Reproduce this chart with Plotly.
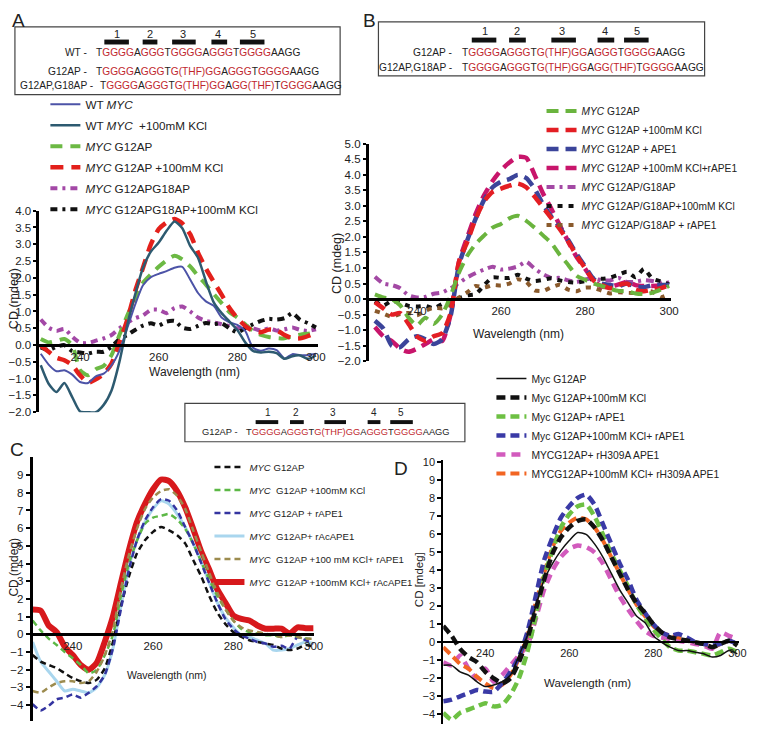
import plotly.graph_objects as go

# Figure is drawn 8px in from the page edge (default body margin), so it is sized to fit the window exactly.
OFF, FW, FH = 8, 741, 722
def px(x): return (x - OFF) / FW
def py(y): return 1 - (y - OFF) / FH

wavelength = list(range(230, 301, 2))

# ---------------- Panel A ----------------
a_wt = [-0.26, -0.58, -0.78, -0.75, -0.88, -1.1, -1.13, -0.93, -0.85, -0.6, -0.17, 0.5, 1.2, 1.78, 2.02, 2.12, 2.2, 2.3,
        2.33, 1.95, 1.55, 1.3, 1.17, 0.82, 0.68, 0.6, 0.42, -0.08, -0.17, -0.1, -0.15, -0.4, -0.27, -0.3, -0.3, -0.26]
a_wt_kcl = [-0.6, -1.15, -1.4, -1.13, -1.55, -1.98, -2.0, -2.0, -1.78, -1.35, -0.5, 0.6, 1.5, 2.3, 2.78, 3.05, 3.4, 3.68,
            3.48, 2.95, 2.6, 1.9, 1.27, 0.95, 0.7, 0.45, 0.08, -0.17, -0.22, -0.2, -0.24, -0.41, -0.33, -0.31, -0.41, -0.31]
a_g12 = [0.18, 0.08, 0.13, 0.18, 0.0, -0.75, -0.9, -0.72, -0.62, -0.3, 0.3, 0.88, 1.38, 1.85, 2.1, 2.33, 2.52, 2.66,
         2.55, 2.34, 2.06, 1.8, 1.52, 1.25, 0.98, 0.82, 0.62, 0.42, 0.3, 0.24, 0.21, 0.2, 0.27, 0.31, 0.34, 0.37]
a_g12_kcl = [-0.02, -0.2, -0.38, -0.45, -0.6, -0.9, -1.12, -1.02, -0.86, -0.55, 0.08, 0.75, 1.6, 2.3, 3.0, 3.45, 3.65, 3.75,
             3.62, 3.3, 2.75, 2.28, 1.88, 1.5, 1.1, 0.8, 0.57, 0.42, 0.38, 0.46, 0.44, 0.3, 0.2, 0.2, 0.27, 0.37]
a_g12g18 = [0.76, 0.52, 0.42, 0.48, 0.25, 0.07, 0.06, 0.13, 0.2, 0.3, 0.5, 0.66, 0.8, 0.88, 1.05, 1.05, 0.95, 1.1,
            1.15, 1.0, 0.82, 0.72, 0.67, 0.62, 0.56, 0.5, 0.57, 0.5, 0.43, 0.5, 0.43, 0.47, 0.52, 0.45, 0.42, 0.47]
a_g12g18_kcl = [-0.07, -0.15, -0.05, 0.0, -0.18, -0.22, -0.25, -0.2, -0.2, -0.05, 0.18, 0.3, 0.45, 0.58, 0.65, 0.58, 0.7, 0.72,
                0.52, 0.48, 0.57, 0.66, 0.62, 0.65, 0.5, 0.38, 0.5, 0.62, 0.72, 0.78, 0.76, 0.8, 0.95, 0.75, 0.65, 0.52]

# ---------------- Panel B ----------------
b_g12 = [0.15, 0.05, 0.0, -0.2, -0.6, -0.85, -0.6, -0.8, -0.5, 0.1, 0.85, 1.4, 1.78, 2.05, 2.3, 2.42, 2.6, 2.68,
         2.52, 2.3, 2.05, 1.8, 1.42, 1.1, 0.75, 0.62, 0.5, 0.42, 0.33, 0.26, 0.25, 0.18, 0.16, 0.2, 0.3, 0.42]
b_g12_kcl = [-0.1, -0.3, -0.5, -0.45, -0.8, -1.2, -1.35, -1.2, -1.1, -0.45, 1.2, 1.85, 2.6, 3.15, 3.45, 3.56, 3.65, 3.72,
             3.6, 3.3, 2.95, 2.6, 2.25, 1.85, 1.4, 1.0, 0.6, 0.45, 0.35, 0.45, 0.5, 0.3, 0.25, 0.3, 0.35, 0.45]
b_g12_ape1 = [-0.7, -0.95, -1.5, -1.55, -1.3, -1.2, -1.3, -1.45, -1.3, -0.55, 1.1, 1.9, 2.6, 3.2, 3.6, 3.78, 3.86, 4.0,
              3.9, 3.55, 3.05, 2.65, 2.3, 1.9, 1.45, 1.05, 0.65, 0.5, 0.45, 0.42, 0.5, 0.4, 0.38, 0.45, 0.45, 0.45]
b_g12_kcl_ape1 = [-0.9, -1.2, -1.35, -1.6, -1.7, -1.6, -1.45, -1.3, -1.35, -0.5, 1.2, 2.0, 2.75, 3.35, 3.8, 4.15, 4.4, 4.58,
                  4.55, 4.0, 3.4, 2.9, 2.37, 1.85, 1.35, 0.98, 0.58, 0.4, 0.4, 0.47, 0.56, 0.45, 0.42, 0.42, 0.45, 0.55]
b_g12g18 = [0.72, 0.5, 0.45, 0.35, 0.12, 0.05, 0.07, 0.17, 0.21, 0.35, 0.52, 0.7, 0.84, 0.95, 1.04, 0.95, 0.98, 1.05,
            1.2, 0.98, 0.8, 0.68, 0.68, 0.6, 0.55, 0.63, 0.66, 0.6, 0.6, 0.68, 0.55, 0.56, 0.61, 0.58, 0.53, 0.53]
b_g12g18_kcl = [-0.07, -0.21, -0.06, -0.12, -0.22, -0.24, -0.22, -0.3, -0.16, -0.06, 0.03, 0.12, 0.16, 0.45, 0.7, 0.68, 0.68, 0.78,
                0.66, 0.58, 0.62, 0.67, 0.6, 0.55, 0.53, 0.58, 0.66, 0.65, 0.69, 0.79, 0.88, 0.7, 0.97, 0.66, 0.57, 0.47]
b_g12g18_ape1 = [-0.38, -0.47, -0.57, -0.48, -0.45, -0.52, -0.38, -0.28, -0.3, -0.18, 0.05, 0.22, 0.42, 0.37, 0.45, 0.44, 0.5, 0.64,
                 0.55, 0.28, 0.26, 0.38, 0.46, 0.3, 0.25, 0.37, 0.36, 0.27, 0.18, 0.22, 0.2, 0.2, 0.26, 0.24, 0.06, 0.16]

# ---------------- Panel C ----------------
c_g12 = [-1.17, -1.54, -1.73, -1.91, -2.2, -2.47, -2.65, -2.75, -2.56, -1.91, -0.43, 1.6, 3.28, 4.58, 5.32, 5.79, 6.07, 5.88,
         5.6, 5.14, 4.2, 3.28, 2.17, 1.24, 0.59, 0.13, -0.15, -0.33, -0.43, -0.52, -0.6, -0.8, -0.89, -0.8, -0.6, -0.7]
c_g12_kcl = [0.78, 0.22, -0.24, -0.6, -1.0, -1.35, -1.73, -2.2, -2.0, -1.17, -0.05, 2.17, 4.0, 5.3, 6.25, 6.6, 6.7, 6.8,
             6.5, 5.97, 5.14, 4.1, 3.1, 2.17, 1.43, 0.78, 0.31, 0.13, 0.05, -0.05, -0.05, -0.15, -0.05, -0.15, -0.24, -0.24]
c_g12_rape1 = [-3.95, -4.3, -4.04, -3.67, -3.58, -3.4, -3.58, -3.3, -2.93, -2.28, -0.8, 1.43, 3.65, 5.32, 6.44, 7.18, 7.64, 7.55,
               7.0, 6.07, 5.14, 4.03, 2.9, 1.8, 0.87, 0.31, -0.05, -0.24, -0.43, -0.52, -0.7, -0.65, -0.8, -0.15, -0.33, -0.52]
c_g12_racape1 = [-0.43, -1.54, -2.1, -2.65, -3.2, -3.1, -3.2, -3.3, -3.0, -2.28, -0.8, 1.6, 3.84, 5.32, 6.35, 7.09, 7.55, 7.37,
                 6.8, 6.07, 5.14, 4.12, 2.9, 1.8, 0.96, 0.4, -0.05, -0.15, -0.33, -0.52, -0.89, -0.89, -0.8, -0.6, -0.43, -0.52]
c_g12_kcl_rape1 = [-3.2, -3.3, -3.0, -2.75, -2.65, -2.65, -2.75, -2.65, -2.1, -1.17, 0.22, 2.54, 4.5, 5.97, 7.09, 7.74, 8.1, 8.2,
                   7.83, 7.09, 5.88, 4.67, 3.47, 2.36, 1.43, 0.78, 0.4, 0.22, 0.13, 0.04, -0.05, -0.15, -0.05, -0.15, -0.24, -0.24]
c_g12_kcl_racape1 = [1.4, 1.34, 0.5, 0.13, -0.7, -1.17, -1.73, -2.0, -1.6, -0.4, 1.0, 2.9, 4.77, 6.35, 7.37, 8.2, 8.75, 8.66,
                     8.1, 7.18, 5.97, 4.67, 3.65, 2.54, 1.8, 1.06, 0.87, 0.78, 0.5, 0.32, 0.32, 0.32, 0.04, 0.4, 0.35, 0.35]

# ---------------- Panel D ----------------
d_g12 = [-1.28, -1.28, -1.64, -1.82, -2.19, -2.46, -2.37, -2.19, -1.82, -0.73, 0.36, 2.0, 3.47, 4.38, 5.1, 5.66, 6.1, 6.0,
         5.47, 4.74, 3.83, 2.92, 2.19, 1.46, 1.1, 0.36, 0.0, -0.27, -0.46, -0.46, -0.55, -0.64, -0.82, -0.73, -0.46, -0.64]
d_g12_kcl = [0.91, 0.36, -0.36, -0.82, -1.1, -1.64, -2.0, -2.28, -2.0, -1.1, 0.18, 1.82, 3.47, 4.93, 5.84, 6.39, 6.75, 6.84,
             6.39, 5.66, 4.74, 3.83, 2.92, 2.19, 1.64, 1.0, 0.55, 0.27, 0.18, 0.1, 0.0, -0.09, -0.27, -0.09, 0.09, -0.18]
d_g12_rape1 = [-3.92, -4.3, -3.92, -3.74, -3.56, -3.38, -3.56, -3.47, -2.92, -2.0, -0.55, 1.46, 3.65, 5.1, 6.39, 7.12, 7.57, 7.66,
               7.0, 6.0, 4.93, 4.0, 3.1, 2.1, 1.37, 0.73, 0.18, -0.27, -0.46, -0.46, -0.55, -0.64, -0.73, -0.55, -0.36, -0.55]
d_g12_kcl_rape1 = [-3.28, -3.19, -3.0, -2.83, -2.65, -2.74, -2.74, -2.28, -1.64, -0.82, 0.55, 2.55, 4.56, 5.84, 6.93, 7.57, 8.03, 8.21,
                   7.66, 6.57, 5.47, 4.38, 3.47, 2.37, 1.64, 1.0, 0.55, 0.36, 0.46, 0.27, 0.0, -0.09, -0.18, -0.09, 0.09, -0.09]
d_g12_h309a = [-1.1, -1.28, -0.73, -1.46, -2.0, -1.46, -2.19, -1.82, -1.28, -0.73, -0.18, 1.28, 2.92, 4.0, 4.74, 5.2, 5.38, 5.29,
               5.0, 4.38, 3.47, 2.55, 1.82, 1.19, 0.64, 0.36, 0.27, 0.18, 0.09, 0.0, -0.09, -0.18, -0.36, 0.55, 0.36, 0.18]
d_g12_kcl_h309a = [-0.27, -0.73, -1.19, -1.46, -1.92, -2.28, -2.55, -2.37, -1.82, -0.91, 0.36, 2.19, 3.83, 5.29, 6.2, 6.66, 6.93, 6.84,
                   6.39, 5.66, 4.74, 3.83, 2.92, 2.1, 1.46, 0.91, 0.55, 0.36, 0.27, 0.18, 0.0, -0.09, -0.27, -0.09, 0.09, -0.09]

FONT = "Liberation Sans, Arial, sans-serif"
SEQ_RED = "#c0272d"

fig = go.Figure()

def add(xa, ya, leg, y, name, color, width, dash, rank):
    fig.add_trace(go.Scatter(
        x=wavelength, y=y, name=name, mode="lines", xaxis=xa, yaxis=ya, legend=leg,
        legendgroup=leg + name, legendrank=rank,
        line=dict(color=color, width=width, dash=dash, shape="spline", smoothing=0.6)))

# Panel A
add("x", "y", "legend", a_g12g18, "<i>MYC</i> G12APG18AP", "#a348a6", 4, "7px,5px,3px,5px", 5)
add("x", "y", "legend", a_g12g18_kcl, "<i>MYC</i> G12APG18AP+100mM KCl", "#111111", 4, "7px,5px,3px,5px", 6)
add("x", "y", "legend", a_g12, "<i>MYC</i> G12AP", "#6cb944", 4, "12px,8px", 3)
add("x", "y", "legend", a_g12_kcl, "<i>MYC</i> G12AP +100mM KCl", "#e3201b", 4.5, "13px,8px", 4)
add("x", "y", "legend", a_wt, "WT <i>MYC</i>", "#4c53a7", 2, "solid", 1)
add("x", "y", "legend", a_wt_kcl, "WT <i>MYC</i>  +100mM KCl", "#2d5a70", 2.5, "solid", 2)

# Panel B
add("x2", "y2", "legend2", b_g12g18, "<i>MYC</i> G12AP/G18AP", "#a349a4", 4, "8px,5px,3px,5px", 5)
add("x2", "y2", "legend2", b_g12g18_kcl, "<i>MYC</i> G12AP/G18AP+100mM KCl", "#111111", 4, "5px,6px", 6)
add("x2", "y2", "legend2", b_g12g18_ape1, "<i>MYC</i> G12AP/G18AP + rAPE1", "#8a5a2c", 4, "5px,6px", 7)
add("x2", "y2", "legend2", b_g12_kcl_ape1, "<i>MYC</i> G12AP +100mM KCl+rAPE1", "#c8156b", 4.5, "12px,7px", 4)
add("x2", "y2", "legend2", b_g12_ape1, "<i>MYC</i> G12AP + APE1", "#3b449a", 4.5, "12px,7px", 3)
add("x2", "y2", "legend2", b_g12_kcl, "<i>MYC</i> G12AP +100mM KCl", "#e31e24", 4.5, "12px,7px", 2)
add("x2", "y2", "legend2", b_g12, "<i>MYC</i> G12AP", "#6ab43e", 4, "12px,7px", 1)

# Panel C
add("x3", "y3", "legend3", c_g12_kcl_racape1, "<i>MYC</i>  G12AP +100mM KCl+ rAcAPE1", "#d7191c", 6, "solid", 6)
add("x3", "y3", "legend3", c_g12_racape1, "<i>MYC</i>  G12AP+ rAcAPE1", "#a9d6ee", 3, "solid", 4)
add("x3", "y3", "legend3", c_g12, "<i>MYC</i> G12AP", "#111111", 2.5, "6px,4px", 1)
add("x3", "y3", "legend3", c_g12_kcl, "<i>MYC</i>  G12AP +100mM KCl", "#5cb846", 2.5, "6px,4px", 2)
add("x3", "y3", "legend3", c_g12_rape1, "<i>MYC</i> G12AP + rAPE1", "#3434a0", 2.5, "6px,4px", 3)
add("x3", "y3", "legend3", c_g12_kcl_rape1, "<i>MYC</i>  G12AP +100 mM KCl+ rAPE1", "#9c8b4e", 2.5, "6px,4px", 5)

# Panel D
add("x4", "y4", "legend4", d_g12_h309a, "MYCG12AP+ rH309A APE1", "#d25bbd", 4.5, "9px,6px", 5)
add("x4", "y4", "legend4", d_g12_kcl_h309a, "MYCG12AP+100mM KCl+ rH309A APE1", "#f26522", 4, "9px,5px", 6)
add("x4", "y4", "legend4", d_g12_rape1, "Myc G12AP+ rAPE1", "#6dc043", 4.5, "9px,5px", 3)
add("x4", "y4", "legend4", d_g12_kcl_rape1, "Myc G12AP+100mM KCl+ rAPE1", "#3a3aa6", 4.5, "9px,5px", 4)
add("x4", "y4", "legend4", d_g12, "Myc G12AP", "#111111", 1.5, "solid", 1)
add("x4", "y4", "legend4", d_g12_kcl, "Myc G12AP+100mM KCl", "#111111", 4.5, "9px,5px", 2)

def zero_pos(dom_top, dom_bot, lo, hi):
    ypix = dom_bot - (0 - lo) / (hi - lo) * (dom_bot - dom_top)
    return py(ypix)

def axes(sfx, xdom, xr, ydom, yr, ytick, yfmt, tickfont, lw, ticklen):
    xa = dict(domain=[px(xdom[0]), px(xdom[1])], range=xr, anchor="free",
              position=zero_pos(ydom[0], ydom[1], yr[0], yr[1]),
              showline=True, linecolor="black", linewidth=lw, ticks="", showgrid=False, zeroline=False,
              tickvals=[240, 260, 280, 300], tickfont=dict(family=FONT, size=tickfont, color="#222"))
    ya = dict(domain=[py(ydom[1]), py(ydom[0])], range=yr, anchor="x" + sfx if sfx else "x",
              showline=True, linecolor="black", linewidth=lw, ticks="outside", ticklen=ticklen, tickwidth=2,
              tickcolor="black", showgrid=False, zeroline=False, tickvals=ytick, tickformat=yfmt,
              tickfont=dict(family=FONT, size=tickfont, color="#222"))
    return xa, ya

tA = [v / 2 for v in range(-4, 9)]
tB = [v / 2 for v in range(-4, 11)]
tC = list(range(-4, 10))
tD = list(range(-4, 11))
xA, yA = axes("", (36.7, 320), [229.6, 300.4], (208, 413), [-2.0, 4.0], tA, ".1f", 11.5, 2.5, 3)
xB, yB = axes("2", (372, 680), [228.5, 300.5], (140, 361), [-2.0, 5.0], tB, ".1f", 11.5, 2.5, 3)
xC, yC = axes("3", (30, 316), [230, 300], (458, 727), [-4.9, 10.05], tC, "d", 11.5, 3, 4)
xD, yD = axes("4", (448, 749), [230, 300.4], (462, 730), [-4.54, 10.11], tD, "d", 11, 2, 4)

def legend_at(x, y, size, gap):
    return dict(x=px(x), y=py(y), xanchor="left", yanchor="top", bgcolor="rgba(0,0,0,0)",
                font=dict(family=FONT, size=size, color="#222"), tracegroupgap=gap,
                traceorder="grouped", itemwidth=30, itemclick=False)

fig.update_layout(
    width=FW, height=FH, autosize=False, margin=dict(l=0, r=0, t=0, b=0),
    paper_bgcolor="white", plot_bgcolor="rgba(0,0,0,0)", showlegend=True,
    font=dict(family=FONT, color="#222"),
    xaxis=xA, yaxis=yA, xaxis2=xB, yaxis2=yB, xaxis3=xC, yaxis3=yC, xaxis4=xD, yaxis4=yD,
    legend=legend_at(43, 85, 11.7, 2),
    legend2=legend_at(548, 92, 10.2, 0),
    legend3=legend_at(210, 454, 9.6, 4),
    legend4=legend_at(497, 364, 10.3, 0),
)

# ---------- sequence boxes ----------
def seq_html(parts):
    out = ""
    for txt, red in parts:
        out += f'<span style="color:{SEQ_RED}">{txt}</span>' if red else txt
    return out

WT_SEQ = [("T", 0), ("GGGG", 1), ("A", 0), ("GGG", 1), ("T", 0), ("GGGG", 1), ("A", 0), ("GGG", 1), ("T", 0), ("GGGG", 1), ("AAGG", 0)]
G12_SEQ = [("T", 0), ("GGGG", 1), ("A", 0), ("GGG", 1), ("T", 0), ("G(THF)GG", 1), ("A", 0), ("GGG", 1), ("T", 0), ("GGGG", 1), ("AAGG", 0)]
G12G18_SEQ = [("T", 0), ("GGGG", 1), ("A", 0), ("GGG", 1), ("T", 0), ("G(THF)GG", 1), ("A", 0), ("GG(THF)", 1), ("T", 0), ("GGGG", 1), ("AAGG", 0)]

annots = []
shapes = []

def text(x, y, s, size, xanchor="center", angle=0):
    annots.append(dict(x=px(x), y=py(y), xref="paper", yref="paper", text=s, showarrow=False, textangle=angle,
                       xanchor=xanchor, yanchor="middle", font=dict(family=FONT, size=size, color="#222")))

def box(x0, y0, x1, y1):
    shapes.append(dict(type="rect", xref="paper", yref="paper", x0=px(x0), x1=px(x1), y0=py(y1), y1=py(y0),
                       line=dict(color="#444", width=1.2), fillcolor="rgba(0,0,0,0)"))

def bars(spans, y0, y1, nums_x, ny, size):
    for i, (a, b) in enumerate(spans):
        shapes.append(dict(type="rect", xref="paper", yref="paper", x0=px(a), x1=px(b), y0=py(y1), y1=py(y0),
                           line=dict(width=0), fillcolor="#111"))
        text(nums_x[i], ny, str(i + 1), size)

def seq_line(label, label_right, seq, seq_left, y, size):
    text(label_right, y, label, size, xanchor="right")
    text(seq_left, y, seq_html(seq), size, xanchor="left")

# Box A
box(12, 21, 343, 90)
bars([(103, 128), (142, 157), (172, 196), (212, 228), (241, 266)], 34, 39, [116, 149, 183, 219, 254], 28, 11)
seq_line("WT -", 87, WT_SEQ, 92, 47, 10.2)
seq_line("G12AP -", 87, G12_SEQ, 92, 66, 10.2)
seq_line("G12AP,G18AP -", 93, G12G18_SEQ, 97, 81, 10.2)

# Box B
box(382, 16, 714, 71)
bars([(477, 502), (515, 532), (558, 583), (605, 622), (632, 657)], 32, 37, [490, 523, 569, 613, 645], 25, 11)
seq_line("G12AP -", 459, G12_SEQ, 465, 47, 10.2)
seq_line("G12AP,G18AP -", 459, G12G18_SEQ, 465, 62, 10.2)

# Box between C and D
box(185, 404, 470, 443)
bars([(257, 280), (292, 306), (327, 349), (371, 384), (394, 417)], 421, 425, [270, 298, 336, 377, 405], 413, 10)
seq_line("G12AP -", 241, G12_SEQ, 245, 433, 9.3)

# Axis titles
text(195, 372, "Wavelength (nm)", 12)
text(525, 333, "Wavelength (nm)", 12)
text(167, 680, "Wavelength (nm)", 10.5)
text(595, 688, "Wavelength (nm)", 11.5)
text(11, 297, "CD (mdeg)", 12.5, angle=-90)
text(340, 262, "CD (mdeg)", 12.5, angle=-90)
text(11, 570, "CD (mdeg)", 12, angle=-90)
text(424, 583, "CD [mdeg]", 11.5, angle=-90)

# Panel letters
for lab, x, y in [("A", 16, 15), ("B", 373, 15), ("C", 14, 451), ("D", 405, 470)]:
    text(x, y, lab, 19)

fig.update_layout(annotations=annots, shapes=shapes)
fig.write_html("out.html", config={"displayModeBar": False})
